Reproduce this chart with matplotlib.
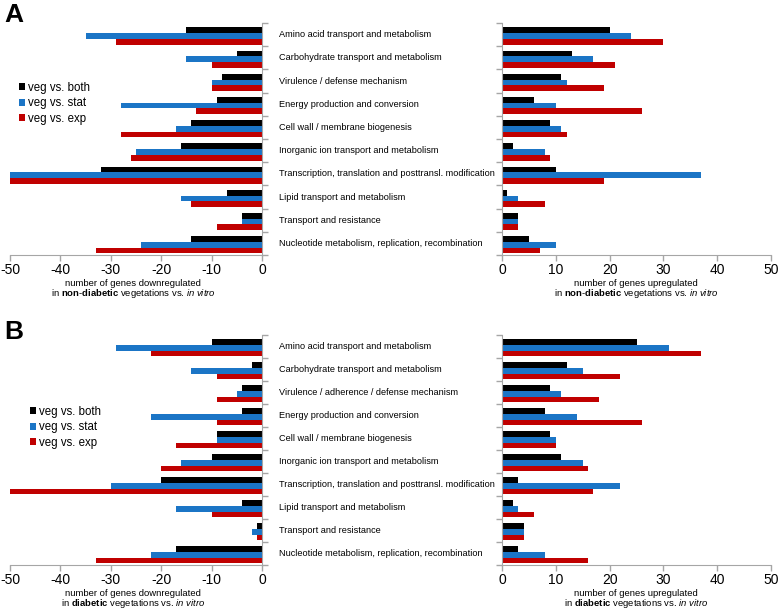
import matplotlib
matplotlib.use("Agg")
import matplotlib.pyplot as plt
import matplotlib.transforms as mtrans
import numpy as np

plt.rcParams['font.family'] = ['Liberation Sans', 'DejaVu Sans']
plt.rcParams['mathtext.fontset'] = 'custom'
plt.rcParams['mathtext.rm'] = 'Liberation Sans'
plt.rcParams['mathtext.bf'] = 'Liberation Sans:bold'
plt.rcParams['mathtext.it'] = 'Liberation Sans:italic'

categories_a = ["Amino acid transport and metabolism",
                "Carbohydrate transport and metabolism",
                "Virulence / defense mechanism",
                "Energy production and conversion",
                "Cell wall / membrane biogenesis",
                "Inorganic ion transport and metabolism",
                "Transcription, translation and posttransl. modification",
                "Lipid transport and metabolism",
                "Transport and resistance",
                "Nucleotide metabolism, replication, recombination"]
categories_b = list(categories_a)
categories_b[2] = "Virulence / adherence / defense mechanism"

series = ["veg vs. both", "veg vs. stat", "veg vs. exp"]
colors = ["#000000", "#1b75c6", "#c00000"]

# panel A (non-diabetic)
a_down_both = [-15, -5, -8, -9, -14, -16, -32, -7, -4, -14]
a_down_stat = [-35, -15, -10, -28, -17, -25, -50, -16, -4, -24]
a_down_exp = [-29, -10, -10, -13, -28, -26, -50, -14, -9, -33]
a_up_both = [20, 13, 11, 6, 9, 2, 10, 1, 3, 5]
a_up_stat = [24, 17, 12, 10, 11, 8, 37, 3, 3, 10]
a_up_exp = [30, 21, 19, 26, 12, 9, 19, 8, 3, 7]

# panel B (diabetic)
b_down_both = [-10, -2, -4, -4, -9, -10, -20, -4, -1, -17]
b_down_stat = [-29, -14, -5, -22, -9, -16, -30, -17, -2, -22]
b_down_exp = [-22, -9, -9, -9, -17, -20, -50, -10, -1, -33]
b_up_both = [25, 12, 9, 8, 9, 11, 3, 2, 4, 3]
b_up_stat = [31, 15, 11, 14, 10, 15, 22, 3, 4, 8]
b_up_exp = [37, 22, 18, 26, 10, 16, 17, 6, 4, 16]

W, H = 778, 610
fig = plt.figure(figsize=(W / 100, H / 100), dpi=100)

spine_col = "#a6a6a6"
bh = 0.245


def draw(ax, vals, side):
    y = np.arange(10)
    for k, v in enumerate(vals):
        ax.barh(y + (k - 1) * bh + 0.06, v, height=bh, color=colors[k],
                label=series[k], linewidth=0)
    ax.set_ylim(9.5, -0.5)
    ax.set_yticks(np.arange(-0.5, 10, 1))
    ax.set_yticklabels([])
    for s in ax.spines.values():
        s.set_visible(False)
    ax.spines['bottom'].set_visible(True)
    ax.spines['bottom'].set_color(spine_col)
    if side == "left":
        ax.set_xlim(-50, 0)
        ax.spines['right'].set_visible(True)
        ax.spines['right'].set_color(spine_col)
        ax.yaxis.tick_right()
    else:
        ax.set_xlim(0, 50)
        ax.spines['left'].set_visible(True)
        ax.spines['left'].set_color(spine_col)
    ax.set_xticks(np.arange(ax.get_xlim()[0], ax.get_xlim()[1] + 1, 10))
    ax.xaxis.set_major_formatter(matplotlib.ticker.FuncFormatter(lambda v, p: "%d" % v))
    ax.tick_params(axis='both', colors=spine_col, length=4, width=1,
                   direction='out', labelsize=10, labelcolor='black', pad=1.5)


def px(x0, x1, y0, y1):
    return [x0 / W, 1 - y1 / H, (x1 - x0) / W, (y1 - y0) / H]


panels = [
    ("A", 23, 255, 22, 283, [a_down_both, a_down_stat, a_down_exp],
     [a_up_both, a_up_stat, a_up_exp], categories_a, "non", "diabetic", (19, 82)),
    ("B", 335, 565, 339, 593, [b_down_both, b_down_stat, b_down_exp],
     [b_up_both, b_up_stat, b_up_exp], categories_b, "diabetic", None, (30, 406)),
]

for letter, top, bot, lety, yl1, down, up, cats, w1, w2, legpos in panels:
    axl = fig.add_axes(px(10, 262, top, bot))
    axr = fig.add_axes(px(502, 771, top, bot))
    draw(axl, down, "left")
    draw(axr, up, "right")

    tr = mtrans.blended_transform_factory(fig.transFigure, axl.transData)
    for i, c in enumerate(cats):
        axl.text(279 / W, i, c, transform=tr, ha='left', va='center',
                 fontsize=6.6, clip_on=False)

    if w2 is None:
        bold = r"$\mathbf{%s}$" % w1
    else:
        bold = r"$\mathbf{%s}$-$\mathbf{%s}$" % (w1, w2)
    for cx, word in [(133, "downregulated"), (636, "upregulated")]:
        fig.text(cx / W, 1 - yl1 / H, "number of genes " + word,
                 ha='center', va='center', fontsize=6.8)
        fig.text(cx / W, 1 - (yl1 + 10.5) / H,
                 "in " + bold + r" vegetations vs. $\mathit{in\ vitro}$",
                 ha='center', va='center', fontsize=6.8)

    fig.text(4 / W, 1 - lety / H, letter, fontsize=19, fontweight='bold',
             ha='left', va='baseline')

    axl.legend(loc='upper left', bbox_to_anchor=(legpos[0] / W, 1 - legpos[1] / H),
               bbox_transform=fig.transFigure, frameon=False, fontsize=8.3,
               handlelength=0.55, handleheight=0.55, handletextpad=0.2,
               labelspacing=0.3, borderpad=0, borderaxespad=0)

fig.savefig("out.png", dpi=100)
